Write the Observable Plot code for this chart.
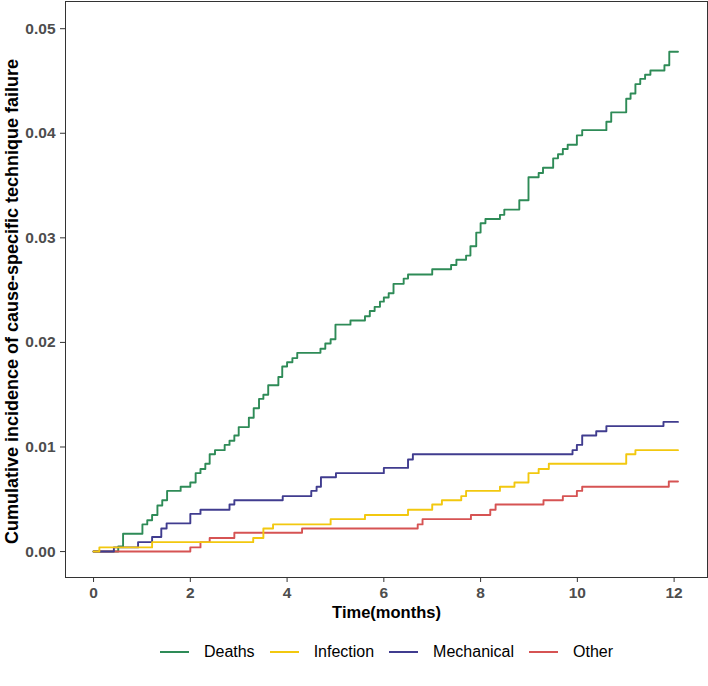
<!DOCTYPE html>
<html><head><meta charset="utf-8">
<script src="https://cdn.jsdelivr.net/npm/d3@7"></script>
<script src="https://cdn.jsdelivr.net/npm/@observablehq/plot@0.6"></script>
<style>
body{margin:0;background:#fff;font-family:"Liberation Sans",Arial,sans-serif;}
#legend{display:flex;justify-content:center;align-items:center;height:44px;padding-left:80px;font-size:16px;color:#000;}
.item{display:flex;align-items:center;margin-right:15px;}
.swatch{width:29px;height:0;border-top:2px solid;margin-right:15px;}
</style></head><body><div id="chart"></div><div id="legend"></div>
<script>
const causes = ["Deaths", "Infection", "Mechanical", "Other"];
const colors = ["#2E8B57", "#F2C80F", "#403C8F", "#D65353"];
const xTicks = [0, 2, 4, 6, 8, 10, 12];
const yTicks = [0, 0.01, 0.02, 0.03, 0.04, 0.05];
const xTitle = "Time(months)";
const yTitle = "Cumulative incidence of cause-specific technique failure";

const deathsTime = [0,0.51,0.61,1.01,1.11,1.21,1.32,1.42,1.52,1.80,2.00,2.11,2.21,2.31,2.40,2.51,2.71,2.81,2.91,3.00,3.21,3.31,3.42,3.51,3.61,3.82,3.90,4.00,4.11,4.21,4.69,4.79,4.90,5.00,5.31,5.61,5.71,5.81,5.92,6.00,6.10,6.20,6.41,6.50,7.00,7.39,7.50,7.70,7.79,7.91,8.00,8.10,8.40,8.49,8.80,8.99,9.20,9.29,9.50,9.60,9.70,9.80,9.99,10.10,10.60,10.70,11.01,11.10,11.20,11.30,11.40,11.51,11.80,11.90,12.08];
const deathsCIF = [0,0.0005,0.0017,0.0026,0.0030,0.0035,0.0044,0.0049,0.0058,0.0062,0.0066,0.0075,0.0079,0.0084,0.0093,0.0097,0.0102,0.0106,0.0111,0.0119,0.0128,0.0137,0.0146,0.0150,0.0159,0.0167,0.0177,0.0181,0.0185,0.0190,0.0194,0.0199,0.0203,0.0217,0.0221,0.0225,0.0230,0.0234,0.0239,0.0243,0.0247,0.0256,0.0261,0.0265,0.0270,0.0274,0.0279,0.0283,0.0292,0.0305,0.0314,0.0318,0.0322,0.0327,0.0336,0.0358,0.0362,0.0367,0.0376,0.0380,0.0385,0.0389,0.0398,0.0403,0.0411,0.0420,0.0433,0.0438,0.0447,0.0452,0.0456,0.0460,0.0465,0.0478,0.0478];

const infectionTime = [0,0.12,1.21,3.30,3.51,3.71,4.90,5.61,6.50,7.00,7.20,7.60,7.70,8.40,8.70,8.99,9.20,9.41,11.01,11.20,12.08];
const infectionCIF = [0,0.0004,0.0009,0.0013,0.0022,0.0026,0.0031,0.0035,0.0040,0.0045,0.0049,0.0053,0.0058,0.0062,0.0066,0.0075,0.0079,0.0084,0.0093,0.0097,0.0097];

const mechanicalTime = [0,0.42,0.92,1.21,1.40,1.51,2.00,2.21,2.81,2.91,3.91,4.50,4.61,4.70,5.01,6.00,6.50,6.60,9.90,9.99,10.10,10.39,10.60,11.78,12.08];
const mechanicalCIF = [0,0.0004,0.0009,0.0014,0.0022,0.0027,0.0036,0.0040,0.0045,0.0049,0.0053,0.0058,0.0062,0.0071,0.0075,0.0080,0.0088,0.0093,0.0097,0.0102,0.0111,0.0115,0.0120,0.0124,0.0124];

const otherTime = [0,2.00,2.21,2.40,2.91,4.31,6.70,6.80,7.80,8.20,8.31,9.30,9.70,9.99,10.10,11.89,12.08];
const otherCIF = [0,0.0004,0.0009,0.0013,0.0018,0.0022,0.0026,0.0031,0.0035,0.0040,0.0045,0.0049,0.0053,0.0058,0.0062,0.0067,0.0067];

const series = [
  {cause: "Deaths", t: deathsTime, v: deathsCIF},
  {cause: "Other", t: otherTime, v: otherCIF},
  {cause: "Mechanical", t: mechanicalTime, v: mechanicalCIF},
  {cause: "Infection", t: infectionTime, v: infectionCIF}
];
const rows = [];
series.forEach(s => s.t.forEach((t, i) => rows.push({cause: s.cause, time: t, cif: s.v[i]})));

const font = "Liberation Sans, Arial, sans-serif";
const plot = Plot.plot({
  width: 708, height: 630,
  marginLeft: 65, marginRight: 1, marginTop: 1, marginBottom: 53,
  style: {fontFamily: font, background: "#fff", overflow: "visible"},
  x: {domain: [-0.58, 12.69]},
  y: {domain: [-0.00248, 0.0526]},
  color: {domain: causes, range: colors},
  marks: [
    Plot.axisY({ticks: yTicks, tickFormat: d3.format(".2f"), tickSize: 5, tickPadding: 5, fontSize: 15.5, fontWeight: "bold", fill: "#4d4d4d", stroke: "#333", label: null}),
    Plot.axisX({ticks: xTicks, tickFormat: d3.format("d"), tickSize: 5, tickPadding: 4, fontSize: 15.5, fontWeight: "bold", fill: "#4d4d4d", stroke: "#333", label: null}),
    Plot.line(rows, {x: "time", y: "cif", z: "cause", stroke: "cause", curve: "step-after", strokeWidth: 1.9}),
    Plot.frame({stroke: "#333", strokeWidth: 1}),
    Plot.text([xTitle], {text: d => d, frameAnchor: "bottom", dy: 40, fontSize: 16.5, fontWeight: "bold", fill: "#000"}),
    Plot.text([yTitle], {text: d => d, frameAnchor: "left", textAnchor: "middle", dx: -53, dy: 12, rotate: -90, fontSize: 18, fontWeight: "bold", fill: "#000"})
  ]
});
document.getElementById("chart").appendChild(plot);

const legend = document.getElementById("legend");
causes.forEach((c, i) => {
  const item = document.createElement("div");
  item.className = "item";
  const sw = document.createElement("span");
  sw.className = "swatch";
  sw.style.borderColor = colors[i];
  const lab = document.createElement("span");
  lab.textContent = c;
  item.appendChild(sw); item.appendChild(lab);
  legend.appendChild(item);
});
</script></body></html>
